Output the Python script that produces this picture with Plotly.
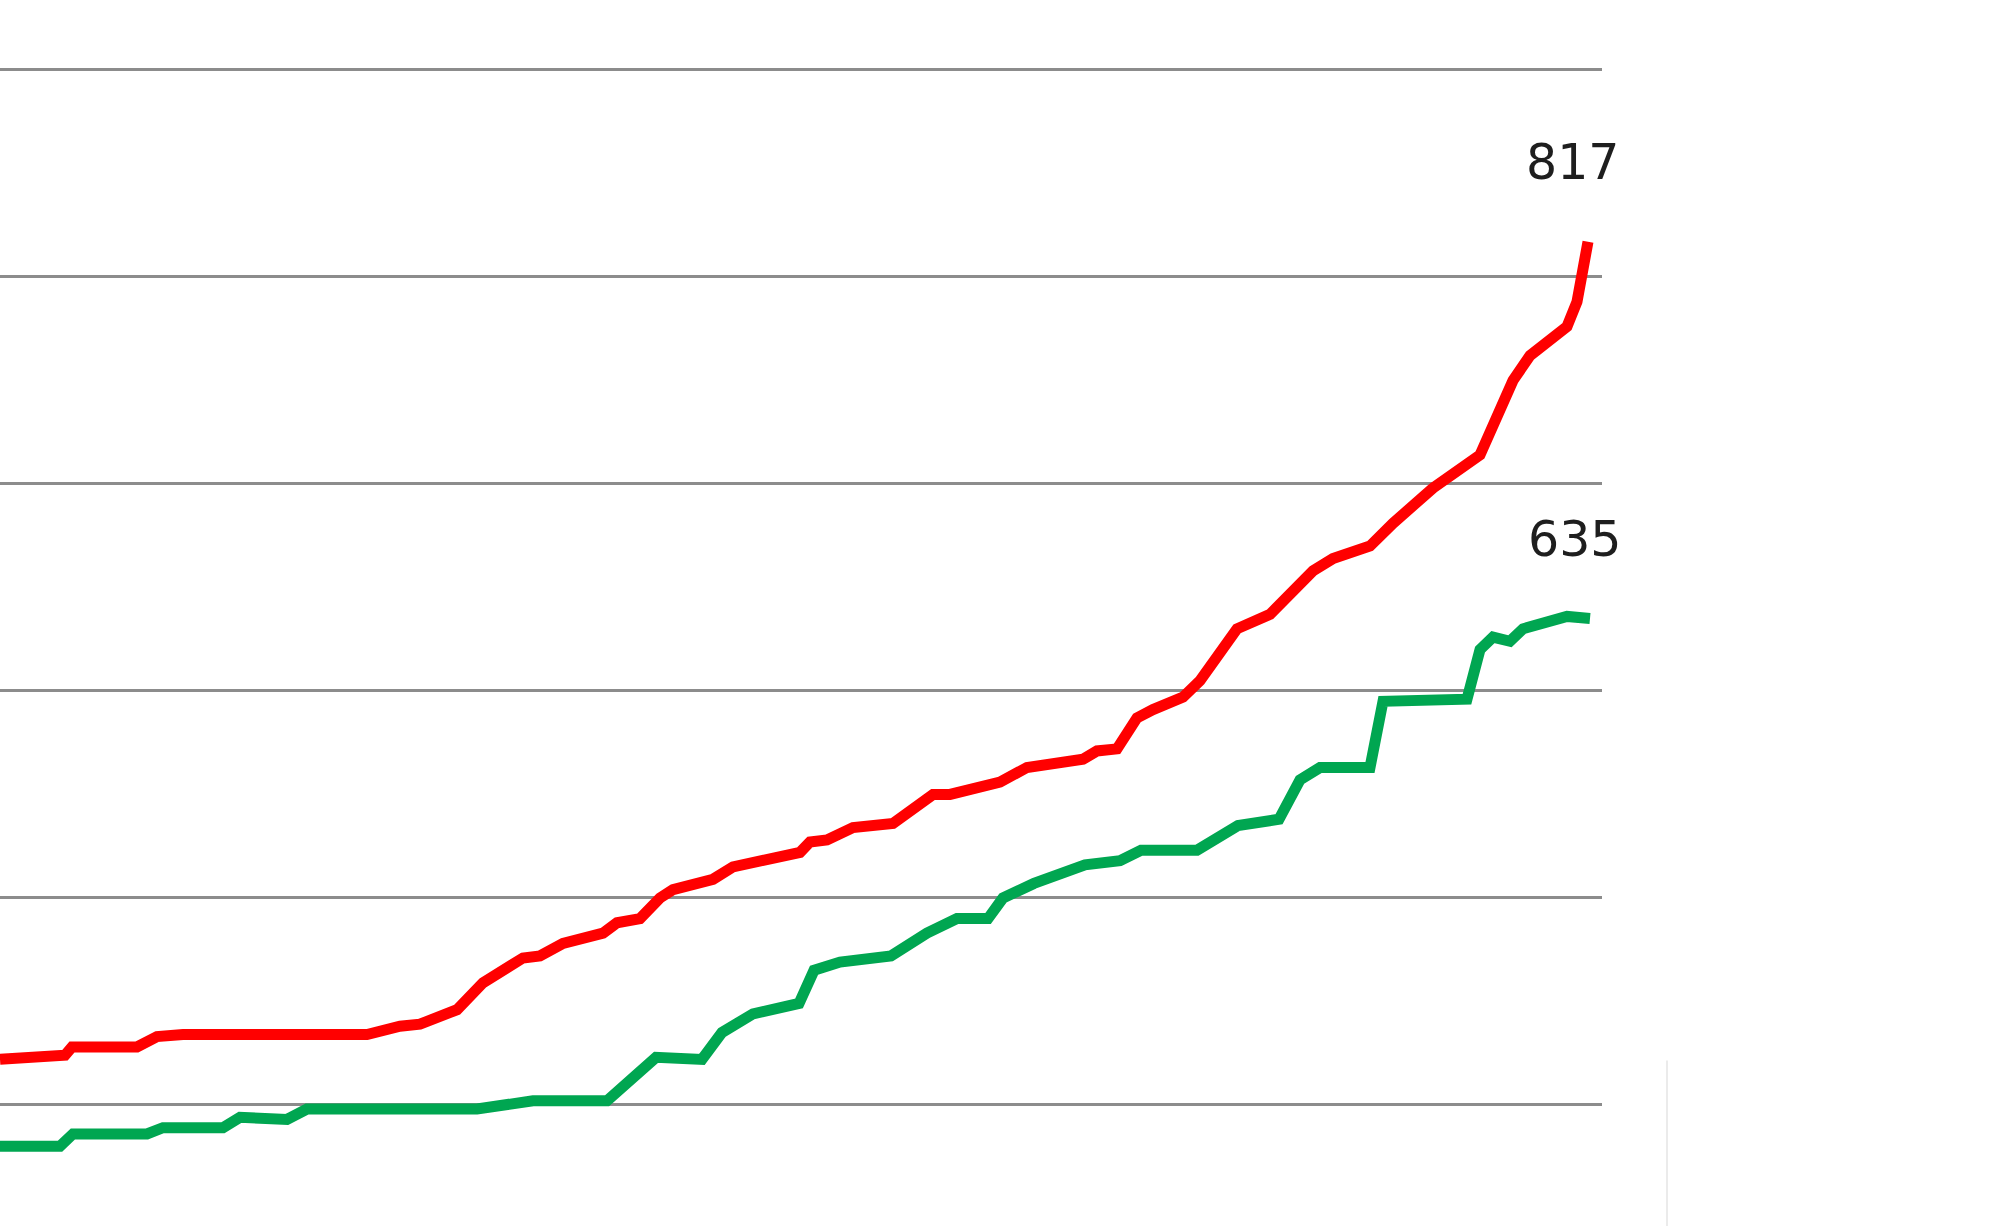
import plotly.graph_objects as go

# Day index (x) and cumulative values (y)
red_days = [0, 6.5, 7.2, 13.7, 15.7, 18.3, 36.7, 40.0, 42.0, 45.7, 48.3, 52.3, 54.0, 56.3,
            60.3, 61.7, 64.0, 66.0, 67.3, 71.3, 73.3, 75.3, 80.0, 81.0, 82.7, 85.3, 89.3,
            93.3, 95.0, 100.0, 102.7, 108.3, 109.7, 111.7, 113.7, 115.3, 118.3, 120.0,
            123.7, 127.0, 131.3, 133.3, 137.0, 139.3, 143.3, 148.0, 151.3, 153.0, 156.7,
            157.7, 158.3, 158.8]
red_vals = [422, 424, 428, 428, 433, 434, 434, 438, 439, 446, 459, 471, 472, 478,
            483, 488, 490, 500, 504, 509, 515, 517, 522, 527, 528, 534, 536,
            550, 550, 556, 563, 567, 571, 572, 587, 591, 597, 605,
            630, 637, 658, 664, 670, 681, 698, 714, 750, 762, 776,
            788, 805, 817]

green_days = [0, 6.0, 7.3, 14.7, 16.3, 22.3, 24.0, 28.7, 30.7, 40.0, 47.7, 53.3, 60.7,
              65.6, 70.2, 72.2, 75.3, 79.9, 81.4, 84.0, 89.1, 92.7, 95.7, 98.8, 100.3,
              103.4, 108.5, 112.0, 114.1, 119.7, 123.8, 127.9, 130.0, 132.0, 137.0,
              138.3, 146.7, 148.0, 149.3, 151.0, 152.3, 156.7, 159.0]
green_vals = [380, 380, 386, 386, 389, 389, 394, 393, 398, 398, 398, 402, 402,
              423, 422, 435, 444, 449, 465, 469, 472, 483, 490, 490, 500,
              507, 516, 518, 523, 523, 535, 538, 557, 563, 563,
              595, 596, 620, 626, 624, 630, 636, 635]

grid_vals = [400, 500, 600, 700, 800, 900]

RED = "#ff0000"
GREEN = "#00a651"

fig = go.Figure()
fig.add_trace(go.Scatter(x=red_days, y=red_vals, mode="lines",
                         line=dict(color=RED, width=11), showlegend=False,
                         hoverinfo="skip"))
fig.add_trace(go.Scatter(x=green_days, y=green_vals, mode="lines",
                         line=dict(color=GREEN, width=11), showlegend=False,
                         hoverinfo="skip"))

for days, vals in ((red_days, red_vals), (green_days, green_vals)):
    fig.add_annotation(x=days[-1], y=vals[-1], text=str(vals[-1]),
                       showarrow=False, xshift=-15, yshift=79,
                       font=dict(family="DejaVu Sans", size=49, color="#1e1e1e"))

# faint crop edge on the right
fig.add_shape(type="line", xref="paper", yref="paper",
              x0=1.0406, x1=1.0406, y0=0.0, y1=0.135,
              line=dict(color="#ebebeb", width=2))

fig.update_layout(
    width=2000, height=1226,
    margin=dict(l=0, r=398, t=0, b=0),
    paper_bgcolor="white", plot_bgcolor="white",
    xaxis=dict(range=[0, 160.2], showgrid=False, zeroline=False,
               showticklabels=False, showline=False, ticks=""),
    yaxis=dict(range=[341.5, 933.8], tickvals=grid_vals, showgrid=True,
               gridcolor="#8c8c8c", gridwidth=3, zeroline=False,
               showticklabels=False, showline=False, ticks=""),
)

fig.write_html("out.html", config={"displayModeBar": False},
               post_script="document.body.style.margin='0';")
